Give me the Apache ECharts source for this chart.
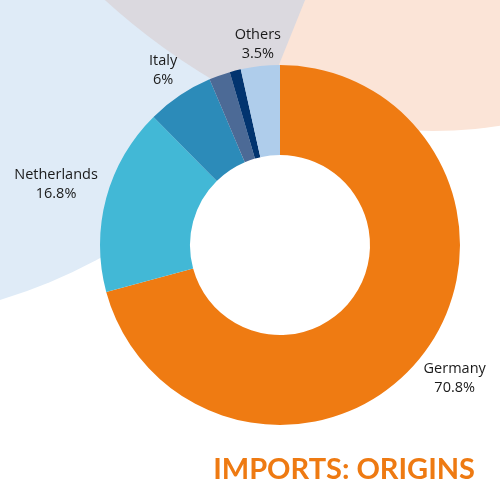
<!DOCTYPE html>
<html>
<head>
<meta charset="utf-8">
<script src="https://cdn.jsdelivr.net/npm/echarts@6/dist/echarts.min.js"></script>
<style>
html,body{margin:0;padding:0;background:#fff;}
#chart{width:500px;height:500px;}
</style>
</head>
<body>
<div id="chart"></div>
<script>
// ---- data ----
var categories = ['Germany', 'Netherlands', 'Italy', 'Minor 1', 'Minor 2', 'Others'];
var shares = [70.8, 16.8, 6, 1.9, 1.0, 3.5];
var labelled = [true, true, true, false, false, true];
var titleText = 'IMPORTS: ORIGINS';

// ---- styles ----
var sliceColors = ['#EF7B12', '#42B8D6', '#2C8BB9', '#4C6A96', '#02346F', '#AFCDEB'];
var labelLineLengths = [40, 52, 30, 0, 0, 22];

var seriesData = categories.map(function (name, i) {
  return {
    name: name,
    value: shares[i],
    itemStyle: { color: sliceColors[i] },
    label: { show: labelled[i] },
    labelLine: { show: false, length: labelLineLengths[i], length2: 0 }
  };
});

// decorative outline of the grey backdrop (left edge follows a large arc)
var greyPts = [];
[-6, 0, 12, 24, 36, 48, 60, 72, 84, 92].forEach(function (y) {
  greyPts.push([554.5 - Math.sqrt(668 * 668 - (y + 494) * (y + 494)), y]);
});
greyPts.push([268, 92]);
greyPts.push([307.5, -6]);

var chart = echarts.init(document.getElementById('chart'), null, { renderer: 'canvas' });
chart.setOption({
  backgroundColor: '#ffffff',
  animation: false,
  title: {
    text: titleText,
    right: 20,
    top: 450,
    textStyle: { fontFamily: 'Lato', fontWeight: 'bold', fontSize: 29, color: '#EE7A12' }
  },
  graphic: {
    elements: [{
      type: 'group',
      silent: true,
      children: [
        { type: 'circle', shape: { cx: -150, cy: -200, r: 522 }, style: { fill: '#DFEBF7' } },
        { type: 'circle', shape: { cx: 433, cy: -300, r: 431 }, style: { fill: '#FBE4D7' } },
        { type: 'polygon', shape: { points: greyPts }, style: { fill: '#DBD9DF' } }
      ]
    }]
  },
  series: [{
    type: 'pie',
    center: [280, 245],
    radius: [90, 180],
    startAngle: 90,
    clockwise: true,
    avoidLabelOverlap: false,
    silent: true,
    itemStyle: { borderWidth: 0 },
    label: {
      show: true,
      position: 'outside',
      distanceToLabelLine: 0,
      formatter: '{b}\n{c}%',
      fontFamily: 'Open Sans',
      fontSize: 14.5,
      lineHeight: 19,
      color: '#1a1a1a'
    },
    labelLine: { show: false, length2: 0 },
    labelLayout: function () {
      return { align: 'center', verticalAlign: 'middle' };
    },
    data: seriesData
  }]
});
</script>
</body>
</html>
